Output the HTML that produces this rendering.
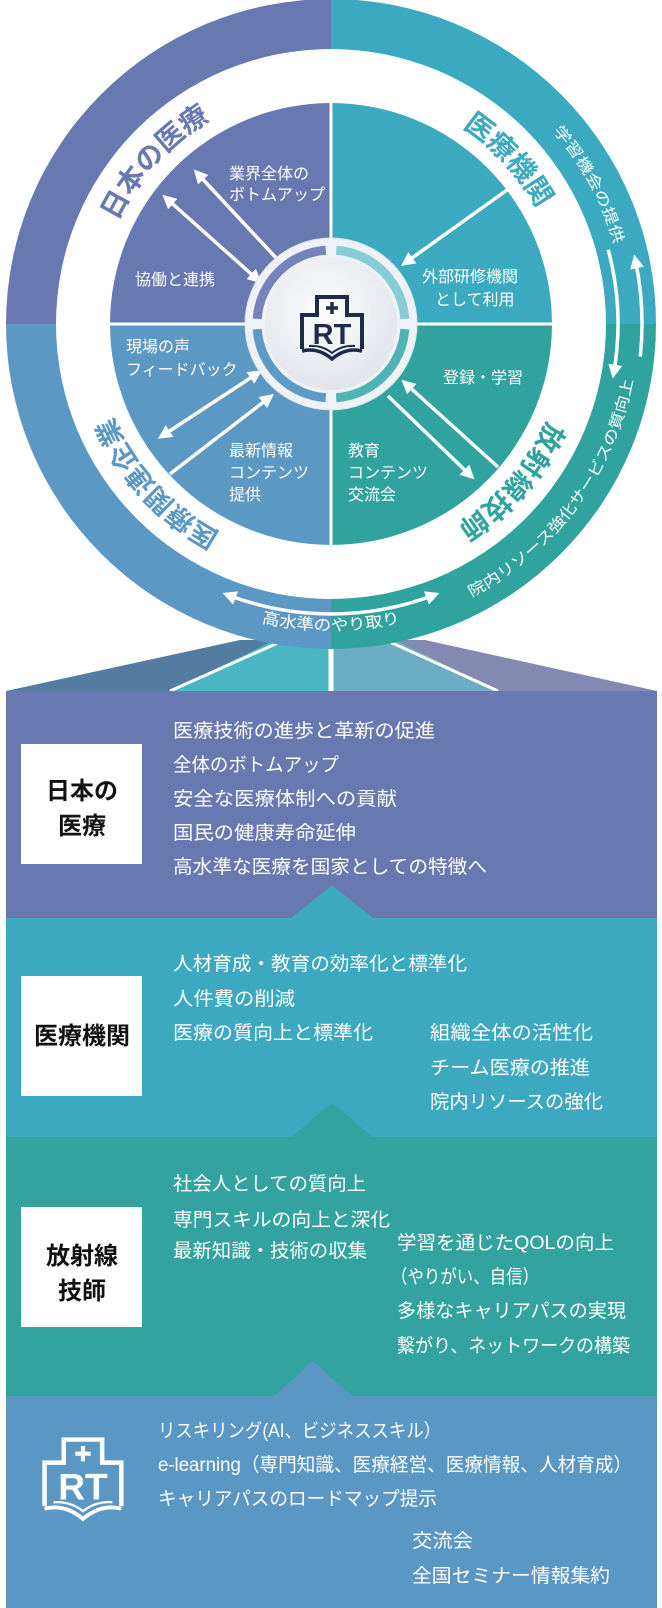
<!DOCTYPE html>
<html><head><meta charset="utf-8"><style>
html,body{margin:0;padding:0;background:#fff;}
svg{display:block;font-family:"Liberation Sans","Noto Sans CJK JP",sans-serif;}
</style></head><body>
<svg width="662" height="1608" viewBox="0 0 662 1608" xmlns="http://www.w3.org/2000/svg">
<defs>
<marker id="ah" viewBox="0 0 4 4" refX="2.6" refY="2" markerWidth="4" markerHeight="4" orient="auto-start-reverse" markerUnits="strokeWidth">
<path d="M0,0 L4,2 L0,4 z" fill="#fff"/></marker>
<radialGradient id="dk" cx="45%" cy="40%" r="65%"><stop offset="0" stop-color="#fdfdfe"/><stop offset="1" stop-color="#dfe3e9"/></radialGradient>
<path id="p1" d="M94.2,313.7 A237,237 0 0 1 300.1,89"/>
<path id="p2" d="M359.9,89 A237,237 0 0 1 567.7,313.7"/>
<path id="p3" d="M300.1,559 A237,237 0 0 1 94.2,334.3"/>
<path id="p4" d="M567.9,328.1 A237,237 0 0 1 368.1,558.1"/>
<path id="o1" d="M431.6,47.7 A294,294 0 0 1 620.5,375.1"/>
<path id="o2" d="M398.9,623.6 A307,307 0 0 0 637.2,302.6"/>
<path id="o3" d="M134.3,559.3 A307,307 0 0 0 527.7,559.3"/>
</defs>

<!-- fan -->
<polygon points="6,691 240,640 331,640 331,691" fill="#547ca0"/>
<polygon points="170,691 275,640 331,640 331,691" fill="#4bb6c3"/>
<polygon points="657,691 425,640 331,640 331,691" fill="#8489b1"/>
<polygon points="498,691 395,640 331,640 331,691" fill="#6badc5"/>
<line x1="170" y1="691" x2="280" y2="642" stroke="#fff" stroke-width="3"/>
<line x1="498" y1="691" x2="390" y2="642" stroke="#fff" stroke-width="3"/>
<line x1="331" y1="640" x2="331" y2="691" stroke="#fff" stroke-width="5"/>

<!-- outer quadrants -->
<path d="M331,324 L331,-1 A325,325 0 0 0 6,324 Z" fill="#6878b0"/>
<path d="M331,324 L331,-1 A325,325 0 0 1 656,324 Z" fill="#3ba9bf"/>
<path d="M331,324 L6,324 A325,325 0 0 0 331,649 Z" fill="#5b98c4"/>
<path d="M331,324 L656,324 A325,325 0 0 1 331,649 Z" fill="#31a39f"/>
<circle cx="331" cy="324" r="275" fill="#fff"/>
<path d="M331,324 L331,103 A221,221 0 0 0 110,324 Z" fill="#6878b0"/>
<path d="M331,324 L331,103 A221,221 0 0 1 552,324 Z" fill="#3ba9bf"/>
<path d="M331,324 L110,324 A221,221 0 0 0 331,545 Z" fill="#5b98c4"/>
<path d="M331,324 L552,324 A221,221 0 0 1 331,545 Z" fill="#31a39f"/>
<line x1="331" y1="49" x2="331" y2="599" stroke="#fff" stroke-width="3"/>
<line x1="56" y1="324" x2="606" y2="324" stroke="#fff" stroke-width="3"/>

<!-- ring labels -->
<g font-weight="bold" font-size="28">
<text fill="#6878b0"><textPath href="#p1" startOffset="50%" text-anchor="middle">日本の医療</textPath></text>
<text fill="#3ba9bf"><textPath href="#p2" startOffset="50%" text-anchor="middle">医療機関</textPath></text>
<text fill="#5b98c4" font-size="27"><textPath href="#p3" startOffset="50%" text-anchor="middle">医療関連企業</textPath></text>
<text fill="#31a39f"><textPath href="#p4" startOffset="50%" text-anchor="middle">放射線技師</textPath></text>
</g>
<!-- outer band labels -->
<g font-size="15" fill="#fff">
<text><textPath href="#o1" startOffset="52%" text-anchor="middle" textLength="130" lengthAdjust="spacingAndGlyphs">学習機会の提供</textPath></text>
<text><textPath href="#o2" startOffset="50%" text-anchor="middle" textLength="280" lengthAdjust="spacingAndGlyphs">院内リソース強化サービスの質向上</textPath></text>
<text font-size="16"><textPath href="#o3" startOffset="50%" text-anchor="middle" textLength="140" lengthAdjust="spacingAndGlyphs">高水準のやり取り</textPath></text>
</g>

<!-- arrows -->
<g stroke="#fff" stroke-width="3.5" fill="none">
<line x1="278" y1="260" x2="197" y2="173" marker-end="url(#ah)"/>
<line x1="258" y1="280" x2="166" y2="198" marker-start="url(#ah)" marker-end="url(#ah)"/>
<line x1="507" y1="190" x2="405" y2="263" marker-end="url(#ah)"/>
<line x1="258" y1="373" x2="162" y2="436" marker-start="url(#ah)" marker-end="url(#ah)"/>
<line x1="170" y1="474" x2="270" y2="397" marker-end="url(#ah)"/>
<line x1="388" y1="396" x2="471" y2="476" marker-end="url(#ah)"/>
<line x1="498" y1="467" x2="405" y2="383" marker-end="url(#ah)"/>
<path d="M227.1,594.7 A290,290 0 0 0 434.9,594.7" marker-start="url(#ah)" marker-end="url(#ah)"/>
<path d="M608.2,249.7 A287,287 0 0 1 613.6,373.8" marker-end="url(#ah)"/>
<path d="M640.3,356.5 A311,311 0 0 0 635.2,259.3" marker-end="url(#ah)"/>
</g>

<!-- inner texts -->
<g font-size="16" fill="#fff">
<text x="229" y="179">業界全体の</text>
<text x="229" y="200">ボトムアップ</text>
<text x="135" y="285">協働と連携</text>
<text x="422" y="282">外部研修機関</text>
<text x="435" y="305">として利用</text>
<text x="126" y="352">現場の声</text>
<text x="126" y="375">フィードバック</text>
<text x="443" y="383">登録・学習</text>
<text x="229" y="456">最新情報</text>
<text x="229" y="478">コンテンツ</text>
<text x="229" y="500">提供</text>
<text x="348" y="456">教育</text>
<text x="348" y="478">コンテンツ</text>
<text x="348" y="500">交流会</text>
</g>

<!-- center -->
<circle cx="331" cy="324" r="86" fill="#eef1f5" stroke="#dde2e8" stroke-width="1"/>
<g fill="none" stroke-width="9">
<path d="M257.2,318.8 A74,74 0 0 1 325.8,250.2" stroke="#7483bb"/>
<path d="M336.2,250.2 A74,74 0 0 1 404.8,318.8" stroke="#86ccd6"/>
<path d="M257.2,329.2 A74,74 0 0 0 325.8,397.8" stroke="#5e9ac6"/>
<path d="M336.2,397.8 A74,74 0 0 0 404.8,329.2" stroke="#4fb3b3"/>
</g>
<circle cx="331" cy="324" r="66" fill="url(#dk)"/>
<g transform="translate(300,295)" stroke="#1f2b4b" fill="none" stroke-width="4">
<path d="M2,54 V20 H17 V2 H47 V20 H62 V54"/>
<path d="M2,56 Q18,52 32,64 Q46,52 62,56" stroke-width="3.5"/>
<path d="M9,51 Q22,50 32,58 Q42,50 55,51" stroke-width="2"/>
<path d="M32,7 V19 M26,13 H38" stroke-width="3.5"/>
<text x="32" y="49" text-anchor="middle" font-size="29" font-weight="bold" fill="#1f2b4b" stroke="none">RT</text>
</g>

<!-- panels -->
<rect x="6" y="691" width="651" height="228" fill="#6878b0"/>
<rect x="6" y="918" width="651" height="220" fill="#3ca9c0"/>
<rect x="6" y="1137" width="651" height="260" fill="#33a39f"/>
<rect x="6" y="1396" width="651" height="212" fill="#5b97c4"/>
<polygon points="290,919 332,885 374,919" fill="#3ca9c0"/>
<polygon points="290,1138 332,1103 374,1138" fill="#33a39f"/>
<polygon points="273,1397 313,1361 353,1397" fill="#5b97c4"/>

<rect x="21" y="744" width="121" height="120" fill="#fff"/>
<rect x="21" y="976" width="121" height="120" fill="#fff"/>
<rect x="21" y="1207" width="121" height="120" fill="#fff"/>
<g font-weight="bold" font-size="24" fill="#111" text-anchor="middle">
<text x="82" y="799">日本の</text>
<text x="82" y="834">医療</text>
<text x="82" y="1044">医療機関</text>
<text x="82" y="1264">放射線</text>
<text x="82" y="1299">技師</text>
</g>

<g font-size="19" fill="#fff">
<text x="173" y="737" textLength="262" lengthAdjust="spacingAndGlyphs">医療技術の進歩と革新の促進</text>
<text x="173" y="771" textLength="166" lengthAdjust="spacingAndGlyphs">全体のボトムアップ</text>
<text x="173" y="805" textLength="224" lengthAdjust="spacingAndGlyphs">安全な医療体制への貢献</text>
<text x="173" y="839" textLength="183" lengthAdjust="spacingAndGlyphs">国民の健康寿命延伸</text>
<text x="173" y="873" textLength="314" lengthAdjust="spacingAndGlyphs">高水準な医療を国家としての特徴へ</text>

<text x="173" y="970" textLength="294" lengthAdjust="spacingAndGlyphs">人材育成・教育の効率化と標準化</text>
<text x="173" y="1005" textLength="122" lengthAdjust="spacingAndGlyphs">人件費の削減</text>
<text x="173" y="1039" textLength="200" lengthAdjust="spacingAndGlyphs">医療の質向上と標準化</text>
<text x="430" y="1039" textLength="163" lengthAdjust="spacingAndGlyphs">組織全体の活性化</text>
<text x="430" y="1074" textLength="160" lengthAdjust="spacingAndGlyphs">チーム医療の推進</text>
<text x="430" y="1108" textLength="173" lengthAdjust="spacingAndGlyphs">院内リソースの強化</text>

<text x="173" y="1190" textLength="193" lengthAdjust="spacingAndGlyphs">社会人としての質向上</text>
<text x="173" y="1226" textLength="217" lengthAdjust="spacingAndGlyphs">専門スキルの向上と深化</text>
<text x="173" y="1257" textLength="194" lengthAdjust="spacingAndGlyphs">最新知識・技術の収集</text>
<text x="397" y="1249" textLength="217" lengthAdjust="spacingAndGlyphs">学習を通じたQOLの向上</text>
<text x="391" y="1283" textLength="148" lengthAdjust="spacingAndGlyphs">（やりがい、自信）</text>
<text x="397" y="1317" textLength="229" lengthAdjust="spacingAndGlyphs">多様なキャリアパスの実現</text>
<text x="397" y="1352" textLength="233" lengthAdjust="spacingAndGlyphs">繋がり、ネットワークの構築</text>

<text x="158" y="1437" textLength="283" lengthAdjust="spacingAndGlyphs">リスキリング(AI、ビジネススキル）</text>
<text x="158" y="1471" textLength="474" lengthAdjust="spacingAndGlyphs">e-learning（専門知識、医療経営、医療情報、人材育成）</text>
<text x="158" y="1505" textLength="279" lengthAdjust="spacingAndGlyphs">キャリアパスのロードマップ提示</text>
<text x="412" y="1547" textLength="61" lengthAdjust="spacingAndGlyphs">交流会</text>
<text x="412" y="1582" textLength="198" lengthAdjust="spacingAndGlyphs">全国セミナー情報集約</text>
</g>

<!-- bottom logo -->
<g transform="translate(42,1437) scale(1.28)" stroke="#fff" fill="none" stroke-width="3.5">
<path d="M2,54 V20 H17 V2 H47 V20 H62 V54"/>
<path d="M2,56 Q18,52 32,64 Q46,52 62,56" stroke-width="3"/>
<path d="M9,51 Q22,50 32,58 Q42,50 55,51" stroke-width="1.8"/>
<path d="M32,7 V19 M26,13 H38" stroke-width="3.2"/>
<text x="32" y="49" text-anchor="middle" font-size="29" font-weight="bold" fill="#fff" stroke="none">RT</text>
</g>
</svg>
</body></html>
